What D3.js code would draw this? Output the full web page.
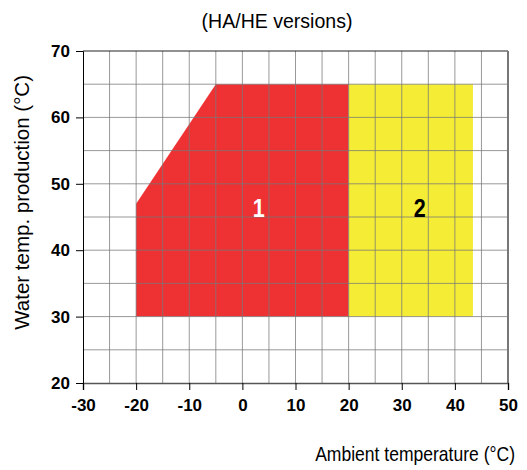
<!DOCTYPE html>
<html>
<head>
<meta charset="utf-8">
<script src="https://cdn.jsdelivr.net/npm/d3@7"></script>
<style>
  body { margin: 0; background: #fff; }
  text { font-family: "Liberation Sans", Arial, sans-serif; }
</style>
</head>
<body>
<svg id="chart"></svg>
<script>
const width = 527;
const height = 470;

// envelope data (ambient °C, water °C)
const zone1 = [[-20, 30], [-20, 47], [-5, 65], [20, 65], [20, 30]];
const zone2 = [[20, 30], [20, 65], [43.4, 65], [43.4, 30]];
const zoneLabels = [
  { text: "1", x: 3.1, y: 45, color: "#fff" },
  { text: "2", x: 33.4, y: 45, color: "#000" }
];
const xTicks = [-30, -20, -10, 0, 10, 20, 30, 40, 50];
const yTicks = [20, 30, 40, 50, 60, 70];

const margin = { top: 51, right: 19, bottom: 87, left: 83 };

const svg = d3.select("#chart")
  .attr("width", width)
  .attr("height", height);

const x = d3.scaleLinear()
  .domain([-30, 50])
  .range([margin.left, width - margin.right]);

const y = d3.scaleLinear()
  .domain([20, 70])
  .range([height - margin.bottom, margin.top]);

const line = d3.line().x(d => x(d[0])).y(d => y(d[1]));

// fills
svg.append("path")
  .attr("d", line(zone1) + "Z")
  .attr("fill", "#ee3234");

svg.append("path")
  .attr("d", line(zone2) + "Z")
  .attr("fill", "#f4ec35");

// grid every 5
const grid = svg.append("g")
  .attr("stroke", "#777")
  .attr("stroke-opacity", 0.75)
  .attr("stroke-width", 1);

grid.selectAll(".gx")
  .data(d3.range(-25, 50, 5))
  .join("line")
  .attr("x1", d => x(d)).attr("x2", d => x(d))
  .attr("y1", y(70)).attr("y2", y(20));

grid.selectAll(".gy")
  .data(d3.range(25, 70, 5))
  .join("line")
  .attr("x1", x(-30)).attr("x2", x(50))
  .attr("y1", d => y(d)).attr("y2", d => y(d));

// frame
svg.append("line")
  .attr("x1", x(-30)).attr("x2", x(50))
  .attr("y1", y(70)).attr("y2", y(70))
  .attr("stroke", "#222");
svg.append("line")
  .attr("x1", x(50)).attr("x2", x(50))
  .attr("y1", y(70)).attr("y2", y(20))
  .attr("stroke", "#777").attr("stroke-width", 2);

// axes
const xAxis = svg.append("g")
  .attr("transform", `translate(0,${y(20)})`)
  .call(d3.axisBottom(x).tickValues(xTicks).tickSize(7).tickPadding(9).tickFormat(d => String(d)));

const yAxis = svg.append("g")
  .attr("transform", `translate(${x(-30)},0)`)
  .call(d3.axisLeft(y).tickValues(yTicks).tickSize(7).tickPadding(6));

xAxis.select(".domain").attr("stroke", "#555").attr("stroke-width", 1.5);
yAxis.select(".domain").attr("stroke", "#000");

[xAxis, yAxis].forEach(a => {
  a.selectAll("text")
    .attr("font-family", "Liberation Sans, Arial, sans-serif")
    .attr("font-size", 17)
    .attr("font-weight", "bold")
    .attr("fill", "#000");
  a.selectAll(".tick line").attr("stroke", "#000");
});

// condensed text: squeeze horizontally to a target width
function condensed(str, size, tx, ty, targetW, anchor, rot, weight) {
  const t = svg.append("text")
    .attr("font-size", size)
    .attr("font-weight", weight || "normal")
    .attr("text-anchor", anchor)
    .text(str);
  const k = targetW / t.node().getComputedTextLength();
  t.attr("transform", `translate(${tx},${ty})${rot ? " rotate(-90)" : ""} scale(${k},1)`);
  return t;
}

// zone numbers
zoneLabels.forEach(d => {
  condensed(d.text, 25, x(d.x), y(d.y), 12, "middle", false, "bold")
    .attr("fill", d.color);
});

// titles (condensed face in the original)
condensed("(HA/HE versions)", 21, 277, 28, 151, "middle");
condensed("Ambient temperature (°C)", 20, 515, 461, 200, "end");
condensed("Water temp. production (°C)", 20, 29, y(47.2), 255, "middle", true);
</script>
</body>
</html>
